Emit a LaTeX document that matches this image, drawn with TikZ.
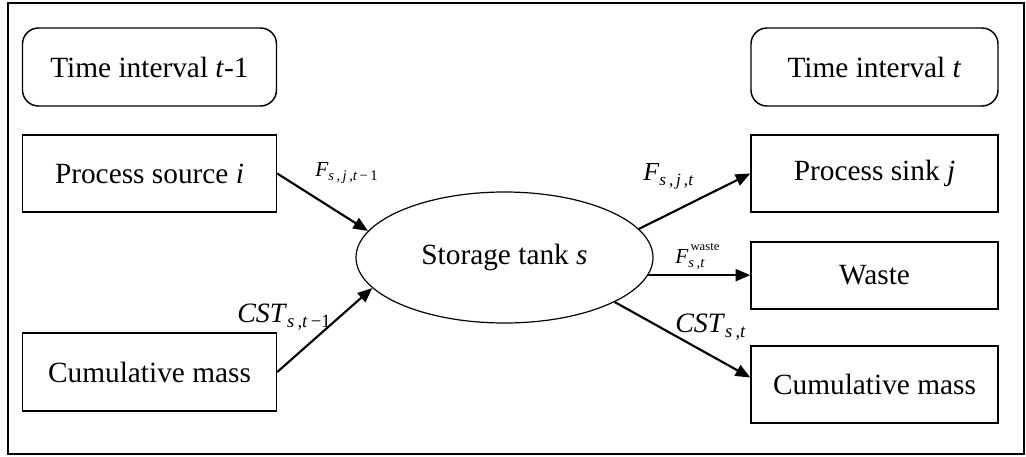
\documentclass[tikz,border=0pt]{standalone}
\usepackage{fontspec}
\setmainfont{Liberation Serif}
\usetikzlibrary{shapes.geometric,arrows.meta,calc}
\newcommand{\lblsub}[2]{\raisebox{-0.45ex}{\fontsize{#1}{#1}\selectfont #2}}
\begin{document}
\begin{tikzpicture}[x=0.75pt,y=-0.75pt,
  box/.style={draw,line width=1.1pt,inner sep=0pt,font=\fontsize{22}{26}\selectfont},
  rbox/.style={box,rounded corners=12pt},
  flow/.style={line width=1.6pt,-{Triangle[length=11pt,width=9pt]}},
  lbl/.style={inner sep=0pt,anchor=base west}]
\useasboundingbox (0,0) rectangle (1026,457);
\draw[line width=1.4pt] (8,3) rectangle (1024,454);

% left column
\node[rbox,minimum width=190.5pt,minimum height=58.5pt] (ti1) at (149.5,67) {Time interval \textit{t}-1};
\node[box,minimum width=190.5pt,minimum height=57.75pt] (src) at (149.5,173.5) {Process source \textit{i}};
\node[box,minimum width=190.5pt,minimum height=58.5pt] (cum1) at (149.5,372) {Cumulative mass};

% right column
\node[rbox,minimum width=185.25pt,minimum height=58.5pt] (ti2) at (874.5,67) {Time interval \textit{t}};
\node[box,minimum width=185.25pt,minimum height=57.75pt] (sink) at (874.5,173.5) {Process sink \textit{j}};
\node[box,minimum width=185.25pt,minimum height=50.25pt] (waste) at (874.5,275.5) {Waste};
\node[box,minimum width=185.25pt,minimum height=57.75pt] (cum2) at (874.5,384.5) {Cumulative mass};

% storage tank
\node[box,line width=0.9pt,ellipse,minimum width=222.75pt,minimum height=98.25pt] (st) at (504.5,257.5) {Storage tank \textit{s}};

% flows
\draw[flow] (src.east) -- (st.169);
\draw[flow] (cum1.east) -- (st.193);
\draw[flow] (st.12) -- (sink.west);
\draw[flow] (st.-7.4) -- (st.-7.4 -| waste.west);
\draw[flow] (st.-22.3) -- ($(cum2.west)+(0,-7)$);

% labels
\node[lbl,font=\fontsize{16}{18}\selectfont] (l1) at (315,176) {\textit{F}\lblsub{11}{\textit{s}\,,\,\textit{j}\,,\textit{t}\,−\,1}};
\node[lbl,font=\fontsize{19.5}{22}\selectfont] (l2) at (643,180) {\textit{F}\lblsub{13}{\textit{s}\,,\,\textit{j}\,,\textit{t}}};
\node[lbl,font=\fontsize{16}{18}\selectfont] (l3) at (675,263) {\textit{F}\rlap{\raisebox{1.3ex}{\fontsize{9.5}{10}\selectfont\,waste}}\lblsub{11}{\textit{s}\,,\textit{t}}};
\node[lbl,font=\fontsize{21}{24}\selectfont] (l4) at (237,322) {\textit{CST}\lblsub{14}{\textit{s}\,,\textit{t}\,−1}};
\node[lbl,font=\fontsize{21}{24}\selectfont] (l5) at (675,332) {\textit{CST}\lblsub{14}{\textit{s}\,,\textit{t}}};
\end{tikzpicture}
\end{document}
